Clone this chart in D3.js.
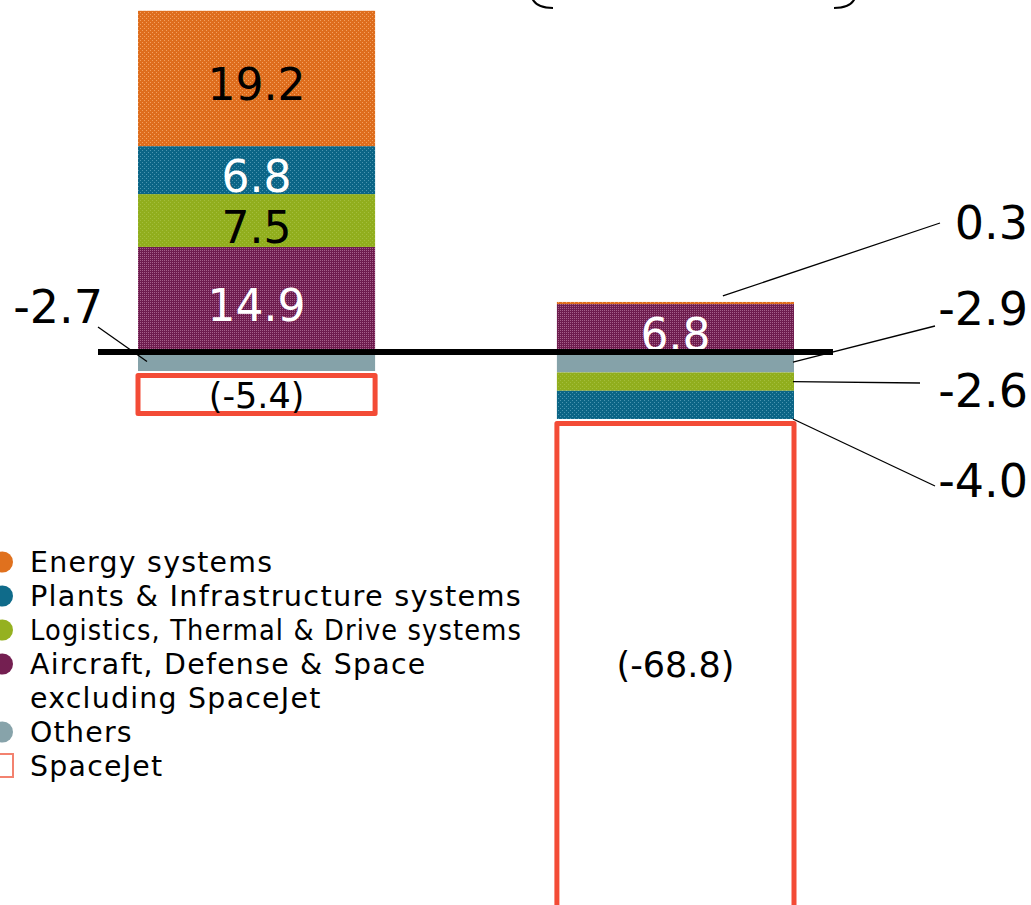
<!DOCTYPE html>
<html>
<head>
<meta charset="utf-8">
<script src="https://cdn.jsdelivr.net/npm/d3@7"></script>
<style>
  body { margin: 0; background: #fff; }
  svg { display: block; font-family: "DejaVu Sans", Verdana, sans-serif; }
</style>
</head>
<body>
<div class="graph"></div>
<script>
// data
var periods = ["Previous", "Current"]
var segments = ["Others", "Aircraft, Defense & Space excluding SpaceJet", "Logistics, Thermal & Drive systems", "Plants & Infrastructure systems", "Energy systems"]
var othersVals = [-2.7, -2.9]
var aircraftVals = [14.9, 6.8]
var logisticsVals = [7.5, -2.6]
var plantsVals = [6.8, -4.0]
var energyVals = [19.2, 0.3]
var spaceJetVals = [-5.4, -68.8]
var legendLabels = [["Energy systems"], ["Plants & Infrastructure systems"], ["Logistics, Thermal & Drive systems"], ["Aircraft, Defense & Space", "excluding SpaceJet"], ["Others"], ["SpaceJet"]]

// size
var width = 1031, height = 905

var svg = d3.select('.graph')
    .append('svg')
    .attr('width', width)
    .attr('height', height)

var colors = {}
colors[segments[0]] = {base: "#85a2a9", light: "#85a2a9", legend: "#87a3aa", text: "#fff"}
colors[segments[1]] = {base: "#6e1c4e", light: "#a4608a", legend: "#741f51", text: "#fff"}
colors[segments[2]] = {base: "#91ae1d", light: "#a3be3c", legend: "#95b120", text: "#000"}
colors[segments[3]] = {base: "#0b6586", light: "#4a95b0", legend: "#0f6b8a", text: "#fff"}
colors[segments[4]] = {base: "#de6d1d", light: "#f3a160", legend: "#e0711e", text: "#000"}
var red = "#f34b36"

// dotted textures
var defs = svg.append("defs")
segments.forEach(function(s, i) {
    var p = defs.append("pattern")
        .attr("id", "pat" + i)
        .attr("width", 4).attr("height", 4)
        .attr("patternUnits", "userSpaceOnUse")
    p.append("rect").attr("width", 4).attr("height", 4).attr("fill", colors[s].base)
    ;[[0, 0], [2, 2], [2, 0], [0, 2]].forEach(function(d, j) {
        if (j > 1 && i !== 1) return
        p.append("rect").attr("x", d[0]).attr("y", d[1]).attr("width", 1).attr("height", 1)
            .attr("fill", colors[s].light)
    })
})

// scales
var x = d3.scaleBand()
    .domain(periods)
    .range([138, 794])
    .paddingInner(0.434)
    .paddingOuter(0)

var y = d3.scaleLinear()
    .domain([-80, 50])
    .range([916, -0.5])

// stack
var table = periods.map(function(p, i) {
    var row = {period: p}
    row[segments[0]] = othersVals[i]
    row[segments[1]] = aircraftVals[i]
    row[segments[2]] = logisticsVals[i]
    row[segments[3]] = plantsVals[i]
    row[segments[4]] = energyVals[i]
    return row
})

var series = d3.stack()
    .keys(segments)
    .offset(d3.stackOffsetDiverging)(table)

var canvas = svg.append("g")

series.forEach(function(s, i) {
    canvas.selectAll(".seg" + i)
        .data(s)
        .join("rect")
        .attr("x", function(d) { return x(d.data.period) })
        .attr("width", x.bandwidth())
        .attr("y", function(d) { return y(Math.max(d[0], d[1])) })
        .attr("height", function(d) { return Math.abs(y(d[0]) - y(d[1])) })
        .attr("fill", "url(#pat" + i + ")")
})

// SpaceJet boxes below the lowest negative segment
var minStack = periods.map(function(p, i) {
    return d3.min(series, function(s) { return Math.min(s[i][0], s[i][1]) })
})
var sw = 5
canvas.selectAll(".spacejet")
    .data(periods)
    .join("rect")
    .attr("x", function(p) { return x(p) })
    .attr("width", x.bandwidth())
    .attr("y", function(p, i) { return y(minStack[i]) + 4.5 })
    .attr("height", function(p, i) { return y(0) - y(-spaceJetVals[i]) })
    .attr("fill", "none")
    .attr("stroke", red)
    .attr("stroke-width", sw)
    .attr("stroke-linejoin", "round")

canvas.selectAll(".sjlabel")
    .data(periods)
    .join("text")
    .attr("x", function(p) { return x(p) + x.bandwidth() / 2 })
    .attr("y", function(p, i) {
        var top = y(minStack[i]) + 4.5
        var h = y(0) - y(-spaceJetVals[i])
        return top + Math.min(h, height - top) / 2 + 13
    })
    .attr("text-anchor", "middle")
    .attr("font-size", 35)
    .text(function(p, i) { return "(" + spaceJetVals[i].toFixed(1) + ")" })

// labels inside the bars
series.forEach(function(s, i) {
    s.forEach(function(d, j) {
        var h = Math.abs(y(d[0]) - y(d[1]))
        if (h < 40) return
        canvas.append("text")
            .attr("x", x(d.data.period) + x.bandwidth() / 2)
            .attr("y", (y(d[0]) + y(d[1])) / 2 + 22)
            .attr("text-anchor", "middle")
            .attr("font-size", 44)
            .attr("fill", colors[segments[i]].text)
            .text(d.data[segments[i]].toFixed(1))
    })
})

// zero line
canvas.append("line")
    .attr("x1", 98).attr("x2", 833)
    .attr("y1", y(0)).attr("y2", y(0))
    .attr("stroke", "#000")
    .attr("stroke-width", 6)

// leader labels for small segments: [series index, period index, label x, label baseline, line end x, line end y, side]
var leaders = [
    [0, 0, 103, 323, 98, 327, "left"],
    [4, 1, 1028, 239, 940, 223, "top"],
    [0, 1, 1028, 325, 935, 326, "right"],
    [2, 1, 1028, 407, 920, 383, "right"],
    [3, 1, 1028, 497, 935, 486, "bottom"]
]
leaders.forEach(function(l) {
    var d = series[l[0]][l[1]]
    var x0 = x(d.data.period), x1 = x0 + x.bandwidth()
    var sx, sy
    if (l[6] === "left") { sx = x0 + 9; sy = (y(d[0]) + y(d[1])) / 2 }
    else if (l[6] === "top") { sx = x0 + x.bandwidth() * 0.7; sy = y(d[1]) - 6 }
    else if (l[6] === "bottom") { sx = x1 - 1; sy = y(d[0]) }
    else { sx = x1 - 1; sy = (y(d[0]) + y(d[1])) / 2 }
    canvas.append("line")
        .attr("x1", sx).attr("y1", sy)
        .attr("x2", l[4]).attr("y2", l[5])
        .attr("stroke", "#000")
        .attr("stroke-width", 1.3)
    canvas.append("text")
        .attr("x", l[2]).attr("y", l[3])
        .attr("text-anchor", "end")
        .attr("font-size", 46)
        .text(d.data[segments[l[0]]].toFixed(1))
})

// bracket corners peeking in at the top
svg.append("path")
    .attr("d", "M531,-6 Q533,8 553,8")
    .attr("fill", "none").attr("stroke", "#000").attr("stroke-width", 2)
svg.append("path")
    .attr("d", "M834,8 Q854,8 856,-6")
    .attr("fill", "none").attr("stroke", "#000").attr("stroke-width", 2)

// legend
var legendColors = [segments[4], segments[3], segments[2], segments[1], segments[0]].map(function(s) { return colors[s].legend })
var legend = svg.append("g").attr("font-size", 28.4).attr("letter-spacing", 1.24)
var line = 0
legendLabels.forEach(function(lines, i) {
    var base = 572 + line * 34
    if (i < 5) {
        legend.append("circle")
            .attr("cx", 2.5).attr("cy", base - 10).attr("r", 10.5)
            .attr("fill", legendColors[i])
    } else {
        legend.append("rect")
            .attr("x", -10).attr("y", base - 22).attr("width", 23).attr("height", 23)
            .attr("fill", "none").attr("stroke", "#f3826f").attr("stroke-width", 2)
    }
    lines.forEach(function(t) {
        var txt = legend.append("text")
            .attr("x", 30).attr("y", 572 + line * 34)
            .text(t)
        // the long logistics line is squeezed to fit in the original
        if (t.length > 30) txt.attr("textLength", 492).attr("lengthAdjust", "spacingAndGlyphs")
        line += 1
    })
})
</script>
</body>
</html>
